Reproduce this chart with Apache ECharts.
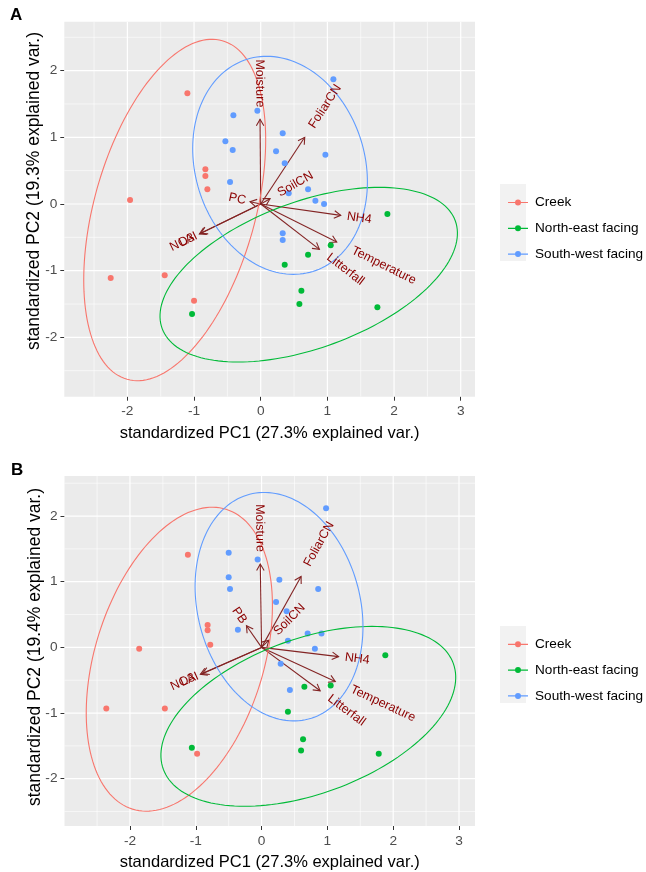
<!DOCTYPE html>
<html><head><meta charset="utf-8">
<script src="https://cdn.jsdelivr.net/npm/echarts@6/dist/echarts.min.js"></script>
<style>html,body{margin:0;padding:0;background:#fff}#c{width:646px;height:872px}</style>
</head><body><div id="c"></div>
<script>
// ---------- DATA ----------
const groups = ['Creek', 'North-east facing', 'South-west facing'];
const groupColors = ['#F8766D', '#00BA38', '#619CFF'];

// Panel A scores [PC1, PC2]
const creekA = [[-1.10,1.66],[-0.83,0.52],[-0.83,0.42],[-0.80,0.22],[-1.96,0.06],[-2.25,-1.11],[-1.44,-1.07],[-1.00,-1.45]];
const northEastA = [[1.90,-0.15],[1.05,-0.62],[0.71,-0.76],[0.36,-0.91],[0.61,-1.30],[0.58,-1.50],[1.75,-1.55],[-1.03,-1.65]];
const southWestA = [[1.09,1.87],[-0.05,1.40],[-0.41,1.33],[0.33,1.06],[-0.53,0.94],[-0.42,0.81],[0.23,0.79],[0.97,0.74],
                    [0.36,0.61],[-0.46,0.33],[0.71,0.22],[0.42,0.16],[0.82,0.05],[0.95,0.00],[0.33,-0.44],[0.33,-0.54]];
// Panel B scores
const creekB = [[-1.12,1.41],[-0.82,0.34],[-0.82,0.26],[-0.78,0.04],[-1.86,-0.02],[-2.36,-0.93],[-1.47,-0.93],[-0.98,-1.62]];
const northEastB = [[1.88,-0.12],[1.05,-0.58],[0.65,-0.60],[0.40,-0.98],[0.63,-1.40],[0.60,-1.57],[1.78,-1.62],[-1.06,-1.53]];
const southWestB = [[0.98,2.12],[-0.50,1.44],[-0.06,1.34],[-0.50,1.07],[-0.48,0.89],[0.27,1.03],[0.86,0.89],[0.22,0.69],
                    [0.38,0.55],[-0.36,0.27],[0.70,0.21],[0.91,0.21],[0.40,0.10],[0.81,-0.02],[0.29,-0.25],[0.43,-0.65]];

// Variable loadings (arrow tips)
const varNamesA = ['Moisture','FoliarCN','SoilCN','PC','NO3','LAI','NH4','Temperature','Litterfall'];
const loadXA = [-0.01, 0.66, 0.14, -0.16, -0.92, -0.90, 1.20, 1.14, 0.88];
const loadYA = [ 1.27, 1.00, 0.08, 0.035, -0.45, -0.44, -0.17, -0.57, -0.68];
const varNamesB = ['Moisture','FoliarCN','SoilCN','PB','NO3','LAI','NH4','Temperature','Litterfall'];
const loadXB = [-0.02, 0.60, 0.11, -0.23, -0.93, -0.90, 1.17, 1.12, 0.89];
const loadYB = [ 1.27, 1.08, 0.11, 0.33, -0.41, -0.40, -0.14, -0.52, -0.66];

// Group ellipses: [centerX, centerY, semiMajor, semiMinor, angleDeg, groupIndex]
const ellipsesA = [[-1.29,-0.09,2.638,1.208,74.3,0],[0.72,-1.06,2.342,1.098,20.2,1],[0.29,0.58,1.666,1.271,-72.8,2]];
const ellipsesB = [[-1.25,-0.18,2.391,1.281,72.7,0],[0.71,-1.05,2.346,1.179,20.1,1],[0.265,0.62,1.769,1.235,-75.4,2]];

// Axis ticks
const xTicks = [-2,-1,0,1,2,3];
const yTicks = [-2,-1,0,1,2];
const xMinor = [-2.5,-1.5,-0.5,0.5,1.5,2.5];
const yMinor = [-2.5,-1.5,-0.5,0.5,1.5,2.5];
const xTitle = 'standardized PC1 (27.3% explained var.)';
const yTitleA = 'standardized PC2 (19.3% explained var.)';
const yTitleB = 'standardized PC2 (19.4% explained var.)';

// ---------- RENDER ----------
const FONT = '"Liberation Sans", Arial, sans-serif';
const measureCtx = document.createElement('canvas').getContext('2d');
const LBL_SIZE = 12.5;
function textW(s){ measureCtx.font = LBL_SIZE + 'px "Liberation Sans"'; return measureCtx.measureText(s).width; }

function gridV(width){ return function(params, api){
  const cs = params.coordSys; const p = api.coord([api.value(0), 0]);
  return {type:'line', shape:{x1:p[0], y1:cs.y, x2:p[0], y2:cs.y+cs.height}, style:{stroke:'#FFFFFF', lineWidth:width}};
};}
function gridH(width){ return function(params, api){
  const cs = params.coordSys; const p = api.coord([0, api.value(1)]);
  return {type:'line', shape:{x1:cs.x, y1:p[1], x2:cs.x+cs.width, y2:p[1]}, style:{stroke:'#FFFFFF', lineWidth:width}};
};}
function ellipseRender(params, api){
  const cx=api.value(0), cy=api.value(1), a=api.value(2), b=api.value(3), th=api.value(4)*Math.PI/180, g=api.value(5);
  const pts=[];
  for(let i=0;i<=160;i++){
    const t=i/160*2*Math.PI;
    const x=cx+a*Math.cos(th)*Math.cos(t)-b*Math.sin(th)*Math.sin(t);
    const y=cy+a*Math.sin(th)*Math.cos(t)+b*Math.cos(th)*Math.sin(t);
    pts.push(api.coord([x,y]));
  }
  return {type:'polyline', shape:{points:pts}, style:{stroke:groupColors[g], fill:null, lineWidth:1.1}};
}
function arrowRender(params, api){
  const o=api.coord([0,0]), p=api.coord([api.value(0), api.value(1)]);
  const dx=p[0]-o[0], dy=p[1]-o[1], L=Math.hypot(dx,dy), ux=dx/L, uy=dy/L;
  const h=7.5, c=Math.cos(Math.PI/6), s=Math.sin(Math.PI/6);
  const w1=[p[0]-h*(ux*c-uy*s), p[1]-h*(ux*s+uy*c)];
  const w2=[p[0]-h*(ux*c+uy*s), p[1]-h*(-ux*s+uy*c)];
  const st={stroke:'#832424', lineWidth:1.1, fill:null};
  return {type:'group', children:[
    {type:'line', shape:{x1:o[0],y1:o[1],x2:p[0],y2:p[1]}, style:st},
    {type:'polyline', shape:{points:[w1,p,w2]}, style:st}
  ]};
}
function labelRender(names){ return function(params, api){
  const x=api.value(0), y=api.value(1), name=names[params.dataIndex];
  const p=api.coord([x,y]);
  const a=Math.atan(y/x);
  const w=textW(name), ux=Math.cos(a), uy=-Math.sin(a);
  let ax, ay, align;
  if(x>0){ ax=p[0]+0.25*w*ux; ay=p[1]+0.25*w*uy; align='left'; }
  else { ax=p[0]-0.25*w*ux; ay=p[1]-0.25*w*uy; align='right'; }
  return {type:'text', x:ax, y:ay, rotation:a,
    style:{text:name, align:align, verticalAlign:'middle', fill:'#8B0000', fontSize:LBL_SIZE, fontFamily:FONT}};
};}

const legendIcon = 'path://M0,4.4h20v1.2h-20z M10,2a3,3 0 1,1 0,6a3,3 0 1,1 0,-6z';

function axisPair(i, xr, yr){
  const x = {gridIndex:i, type:'value', min:xr[0], max:xr[1],
    axisLine:{show:false, onZero:false},
    axisTick:{show:true, length:4, customValues:xTicks, lineStyle:{color:'#333333', width:1}},
    axisLabel:{customValues:xTicks, color:'#4D4D4D', fontSize:13.7, fontFamily:FONT, margin:8},
    splitLine:{show:false},
    name:xTitle, nameLocation:'middle', nameGap:28,
    nameTextStyle:{color:'#000', fontSize:16.5, fontFamily:FONT}};
  const y = {gridIndex:i, type:'value', min:yr[0], max:yr[1],
    axisLine:{show:false, onZero:false},
    axisTick:{show:true, length:4, customValues:yTicks, lineStyle:{color:'#333333', width:1}},
    axisLabel:{customValues:yTicks, color:'#4D4D4D', fontSize:13.7, fontFamily:FONT, margin:7},
    splitLine:{show:false}};
  return [x,y];
}
const [xA,yA] = axisPair(0, [-2.946, 3.214], [-2.890, 2.734]);
const [xB,yB] = axisPair(1, [-2.995, 3.243], [-2.72, 2.61]);

function panelSeries(i, pts, ellipses, lx, ly, names){
  const base = {xAxisIndex:i, yAxisIndex:i};
  const s = [];
  s.push(Object.assign({type:'custom', renderItem:gridV(0.6), data:xMinor.map(v=>[v,0]), encode:{x:0,y:1}, z:1, silent:true, clip:true}, base));
  s.push(Object.assign({type:'custom', renderItem:gridH(0.6), data:yMinor.map(v=>[0,v]), encode:{x:0,y:1}, z:1, silent:true, clip:true}, base));
  s.push(Object.assign({type:'custom', renderItem:gridV(1.2), data:xTicks.map(v=>[v,0]), encode:{x:0,y:1}, z:1, silent:true, clip:true}, base));
  s.push(Object.assign({type:'custom', renderItem:gridH(1.2), data:yTicks.map(v=>[0,v]), encode:{x:0,y:1}, z:1, silent:true, clip:true}, base));
  s.push(Object.assign({type:'custom', renderItem:arrowRender, data:lx.map((v,k)=>[v, ly[k]]), encode:{x:0,y:1}, z:2, silent:true, clip:true}, base));
  pts.forEach((d,g)=>{
    s.push(Object.assign({type:'scatter', name:groups[g], data:d, symbolSize:6, itemStyle:{color:groupColors[g], opacity:1}, z:3, silent:true}, base));
  });
  s.push(Object.assign({type:'custom', renderItem:ellipseRender, data:ellipses, encode:{x:0,y:1}, z:4, silent:true, clip:true}, base));
  s.push(Object.assign({type:'custom', renderItem:labelRender(names), data:lx.map((v,k)=>[v, ly[k]]), encode:{x:0,y:1}, z:5, silent:true, clip:true}, base));
  return s;
}

function legendAt(top){
  return {orient:'vertical', left:503, top:top, itemWidth:20, itemHeight:6, itemGap:11.8,
    selectedMode:false,
    data:groups.map(n=>({name:n, icon:legendIcon})),
    textStyle:{fontSize:13.6, color:'#000', fontFamily:FONT, lineHeight:14, padding:[0,0,0,2]}};
}

function yTitleText(text, cx, cy){
  return {type:'text', x:cx, y:cy, rotation:Math.PI/2, z:10,
    style:{text:text, align:'center', verticalAlign:'middle', fontSize:17.5, fontFamily:FONT, fill:'#000'}};
}

const chart = echarts.init(document.getElementById('c'), null, {renderer:'canvas'});
chart.setOption({
  animation:false,
  backgroundColor:'#FFFFFF',
  textStyle:{fontFamily:FONT},
  grid:[
    {left:64.3, top:21.7, width:410.7, height:375, show:true, backgroundColor:'#EBEBEB', borderWidth:0, containLabel:false, outerBoundsMode:'none'},
    {left:64.5, top:476, width:410.5, height:350, show:true, backgroundColor:'#EBEBEB', borderWidth:0, containLabel:false, outerBoundsMode:'none'}
  ],
  xAxis:[xA, xB],
  yAxis:[yA, yB],
  legend:[legendAt(190.5), legendAt(632.3)],
  graphic:[
    {type:'rect', left:500, top:184, z:0, shape:{width:26, height:77}, style:{fill:'#F2F2F2'}},
    {type:'rect', left:500, top:626, z:0, shape:{width:26, height:77}, style:{fill:'#F2F2F2'}},
    {type:'text', left:10, top:7, z:10, style:{text:'A', fontSize:17, fontWeight:'bold', fontFamily:FONT, fill:'#000'}},
    {type:'text', left:11, top:462, z:10, style:{text:'B', fontSize:17, fontWeight:'bold', fontFamily:FONT, fill:'#000'}},
    yTitleText(yTitleA, 34, 191),
    yTitleText(yTitleB, 35, 647)
  ],
  series:[].concat(
    panelSeries(0, [creekA, northEastA, southWestA], ellipsesA, loadXA, loadYA, varNamesA),
    panelSeries(1, [creekB, northEastB, southWestB], ellipsesB, loadXB, loadYB, varNamesB)
  )
});
</script>
</body></html>
